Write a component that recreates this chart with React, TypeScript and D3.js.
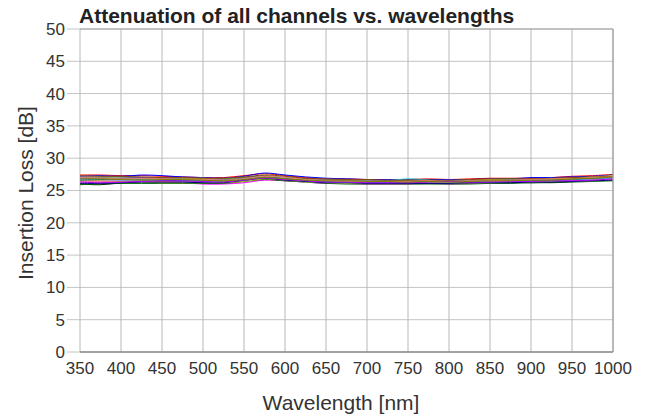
import React from 'react';
import * as d3 from 'd3';

// wavelengths sampled every 25 nm
const wavelengths = d3.range(350, 1001, 25);
const xTicks = [350, 400, 450, 500, 550, 600, 650, 700, 750, 800, 850, 900, 950, 1000];
const yTicks = [0, 5, 10, 15, 20, 25, 30, 35, 40, 45, 50];

// insertion loss per channel [dB]
const channels: number[][] = [
  [27.4,27.4,27.3,27.3,27.2,27.1,27.0,27.0,27.3,27.6,27.3,27.0,26.8,26.8,26.7,26.6,26.7,26.8,26.7,26.8,26.9,26.9,26.9,27.0,27.2,27.3,27.5],
  [27.2,27.3,27.2,27.4,27.3,27.1,27.0,26.9,27.2,27.7,27.4,27.1,26.9,26.8,26.7,26.7,26.6,26.7,26.7,26.7,26.8,26.8,27.0,27.0,27.1,27.2,27.4],
  [27.0,27.1,27.1,27.0,26.9,26.9,26.8,26.8,27.0,27.3,27.0,26.8,26.6,26.6,26.5,26.5,26.5,26.6,26.5,26.6,26.7,26.8,26.7,26.8,26.9,27.0,27.2],
  [26.3,26.3,26.4,26.4,26.3,26.2,26.0,26.0,26.2,26.6,26.5,26.3,26.1,26.1,26.0,26.0,26.0,26.1,26.0,26.1,26.2,26.2,26.3,26.3,26.4,26.5,26.6],
  [26.8,26.9,26.8,26.8,26.7,26.8,26.9,26.7,26.9,27.1,26.9,26.7,26.6,26.5,26.4,26.4,26.4,26.5,26.5,26.6,26.7,26.6,26.6,26.7,26.9,27.1,27.3],
  [26.6,26.6,26.6,26.5,26.5,26.5,26.4,26.4,26.7,27.0,26.8,26.5,26.3,26.4,26.4,26.5,26.8,26.6,26.3,26.3,26.4,26.4,26.4,26.5,26.6,26.7,26.8],
  [26.0,25.9,26.2,26.4,26.5,26.4,26.4,26.3,26.6,27.0,26.7,26.5,26.3,26.2,26.2,26.1,26.2,26.2,26.1,26.2,26.3,26.3,26.2,26.3,26.4,26.5,26.6],
  [26.5,26.5,26.4,26.4,26.4,26.3,26.3,26.3,26.5,26.8,26.7,26.5,26.3,26.2,26.2,26.2,26.2,26.3,26.2,26.3,26.4,26.4,26.4,26.4,26.5,26.6,26.7],
  [26.9,26.8,26.9,27.0,26.8,26.7,26.6,26.6,26.9,27.2,26.9,26.7,26.5,26.5,26.4,26.4,26.4,26.4,26.6,26.4,26.5,26.6,26.7,26.6,26.7,26.8,27.0],
  [27.1,27.0,26.9,26.9,26.9,26.8,26.7,26.7,26.9,27.2,27.0,26.8,26.7,26.6,26.6,26.5,26.5,26.5,26.5,26.5,26.6,26.6,26.6,26.7,26.8,26.9,27.0],
  [26.4,26.4,26.5,26.5,26.5,26.4,26.3,26.2,26.5,26.8,26.6,26.4,26.2,26.2,26.1,26.2,26.3,26.3,26.2,26.3,26.3,26.4,26.4,26.5,26.6,26.6,26.7],
  [25.9,26.0,26.1,26.1,26.1,26.1,26.1,26.1,26.4,26.7,26.5,26.3,26.1,26.0,26.0,26.0,26.0,26.0,26.0,26.0,26.1,26.1,26.2,26.2,26.3,26.4,26.5],
  [26.7,26.7,26.6,26.6,26.6,26.6,26.5,26.5,26.8,27.0,26.8,26.6,26.4,26.4,26.3,26.3,26.4,26.3,26.3,26.4,26.5,26.5,26.5,26.6,26.7,26.8,26.9],
  [27.3,27.2,27.2,27.1,27.0,27.0,26.9,26.9,27.1,27.4,27.2,26.9,26.8,26.7,26.7,26.6,26.6,26.6,26.6,26.7,26.8,26.8,26.8,26.9,27.0,27.1,27.2],
  [26.2,26.2,26.3,26.3,26.2,26.2,26.2,26.2,26.4,26.8,26.6,26.3,26.2,26.1,26.1,26.1,26.1,26.2,26.1,26.2,26.2,26.3,26.3,26.4,26.4,26.5,26.6],
  [26.1,26.1,26.2,26.3,26.3,26.3,26.2,26.2,26.6,26.9,26.6,26.4,26.2,26.2,26.1,26.1,26.1,26.1,26.1,26.2,26.2,26.2,26.3,26.3,26.4,26.5,26.6],
  [26.6,26.7,26.8,26.7,26.6,26.5,26.5,26.6,26.8,27.1,26.9,26.6,26.4,26.3,26.3,26.3,26.3,26.4,26.4,26.5,26.5,26.6,26.6,26.6,26.7,26.9,27.0],
  [27.0,26.9,26.8,26.8,26.8,26.7,26.7,26.6,26.8,27.2,27.0,26.7,26.5,26.4,26.4,26.4,26.4,26.5,26.4,26.5,26.5,26.6,26.7,26.8,26.8,27.0,27.1],
  [26.3,26.2,26.3,26.4,26.5,26.5,26.4,26.3,26.6,26.9,26.7,26.5,26.3,26.3,26.2,26.2,26.2,26.3,26.4,26.3,26.3,26.4,26.4,26.5,26.5,26.6,26.8],
  [26.8,26.8,26.7,26.6,26.7,26.7,26.6,26.5,26.7,27.0,26.8,26.6,26.5,26.5,26.4,26.4,26.3,26.4,26.3,26.4,26.5,26.5,26.6,26.6,26.8,26.9,27.1],
];

const colors = [
  '#ff0000', '#0000ff', '#00b000', '#ff00ff', '#e6d800', '#00d0e0', '#000000', '#ff8c00',
  '#8a2be2', '#808080', '#ff69b4', '#006400', '#6fa8ff', '#8b4513', '#9acd32', '#000080',
  '#008080', '#fa8072', '#b000ff', '#808000',
];

const W = 646;
const H = 417;
const margin = { left: 80, right: 33, top: 29, bottom: 65 };
const font = '"Liberation Sans", Arial, sans-serif';

export default function App() {
  const x = d3.scaleLinear().domain([350, 1000]).range([margin.left, W - margin.right]);
  const y = d3.scaleLinear().domain([0, 50]).range([H - margin.bottom, margin.top]);
  const line = d3.line<number>()
    .x((_, i) => x(wavelengths[i]))
    .y(d => y(d))
    .curve(d3.curveCatmullRom);

  const [x0, x1] = x.range();
  const [yb, yt] = y.range();

  return (
    <svg width={W} height={H} style={{ position: 'absolute', left: 0, top: 0, fontFamily: font }}>
      <rect width={W} height={H} fill="#fff" />
      {/* grid */}
      {yTicks.map(t => (
        <line key={'gy' + t} x1={x0 - 13} x2={x1} y1={y(t)} y2={y(t)} stroke="#c4c4c4" strokeWidth={1} />
      ))}
      {xTicks.map(t => (
        <line key={'gx' + t} x1={x(t)} x2={x(t)} y1={yt} y2={yb} stroke="#b8b8b8" strokeWidth={1} />
      ))}
      {/* channels */}
      {channels.map((c, i) => (
        <path key={'c' + i} d={line(c) || ''} fill="none" stroke={colors[i % colors.length]} strokeWidth={1} />
      ))}
      {/* frame */}
      <line x1={x0} x2={x1} y1={yt} y2={yt} stroke="#a0a0a0" strokeWidth={1.2} />
      <line x1={x1} x2={x1} y1={yt} y2={yb} stroke="#a0a0a0" strokeWidth={1.2} />
      <line x1={x0} x2={x1} y1={yb} y2={yb} stroke="#8c8c8c" strokeWidth={1.5} />
      {/* tick labels */}
      {yTicks.map(t => (
        <text key={'ly' + t} x={65} y={y(t)} dy="0.35em" textAnchor="end" fontSize={17} fill="#333">{t}</text>
      ))}
      {xTicks.map(t => (
        <text key={'lx' + t} x={x(t)} y={374} textAnchor="middle" fontSize={17} fill="#333">{t}</text>
      ))}
      <text x={79} y={23} fontSize={21} fontWeight="bold" fill="#222">Attenuation of all channels vs. wavelengths</text>
      <text x={341} y={410} textAnchor="middle" fontSize={21} fill="#333">Wavelength [nm]</text>
      <text transform="translate(33,193) rotate(-90)" textAnchor="middle" fontSize={21} fill="#333">Insertion Loss [dB]</text>
    </svg>
  );
}
